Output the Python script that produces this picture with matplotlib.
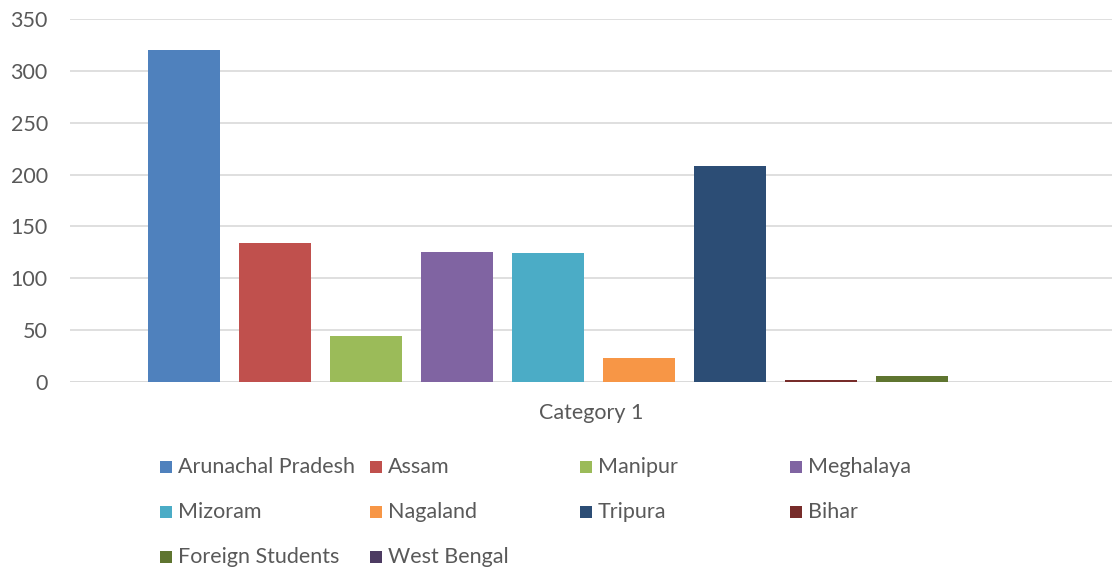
import matplotlib
matplotlib.use("Agg")
import matplotlib.pyplot as plt
from matplotlib.patches import Rectangle

states = ["Arunachal Pradesh", "Assam", "Manipur", "Meghalaya", "Mizoram",
          "Nagaland", "Tripura", "Bihar", "Foreign Students", "West Bengal"]
values = [320, 134, 44, 125, 124, 23, 208, 2, 6, 0]
colors = ["#4F81BD", "#C0504D", "#9BBB59", "#8064A2", "#4BACC6",
          "#F79646", "#2C4D75", "#772C2A", "#5F7530", "#4D3B62"]
yticks = [0, 50, 100, 150, 200, 250, 300, 350]
category = "Category 1"

plt.rcParams['font.family'] = ['Lato', 'DejaVu Sans']
txt = "#595959"
fs = 15.5
W, H = 1112, 586
fig = plt.figure(figsize=(W/100, H/100), dpi=100)
ax = fig.add_axes([70/W, 1-382/H, 1-70/W, (382-19)/H])

xs = list(range(len(values)))
ax.bar(xs, values, width=72/91, color=colors, zorder=3)
ax.set_xlim(-1.253, 10.198)
ax.set_ylim(0, 350)
ax.set_yticks(yticks)
ax.set_yticklabels([str(v) for v in yticks], fontsize=fs, color=txt)
ax.tick_params(axis='y', length=0, pad=16)
ax.set_xticks([])
ax.grid(axis='y', color="#D9D9D9", linewidth=1.2, zorder=0)
for s in ax.spines.values():
    s.set_visible(False)
ax.axhline(0, color="#D9D9D9", linewidth=1.2, zorder=2)
fig.text(591/W, 1-413/H, category, ha='center', va='center', fontsize=fs, color=txt)

# legend
col_x = [160, 370, 580, 790]
row_y = [467, 512, 557]
for i, (name, c) in enumerate(zip(states, colors)):
    r, cidx = divmod(i, 4)
    x0 = col_x[cidx]
    y0 = row_y[r]
    fig.add_artist(Rectangle((x0/W, 1-(y0+6)/H), 12/W, 12/H, transform=fig.transFigure,
                             facecolor=c, edgecolor='none'))
    fig.text((x0+18)/W, 1-y0/H, name, ha='left', va='center', fontsize=fs, color=txt)

fig.savefig("out.png", dpi=100)
